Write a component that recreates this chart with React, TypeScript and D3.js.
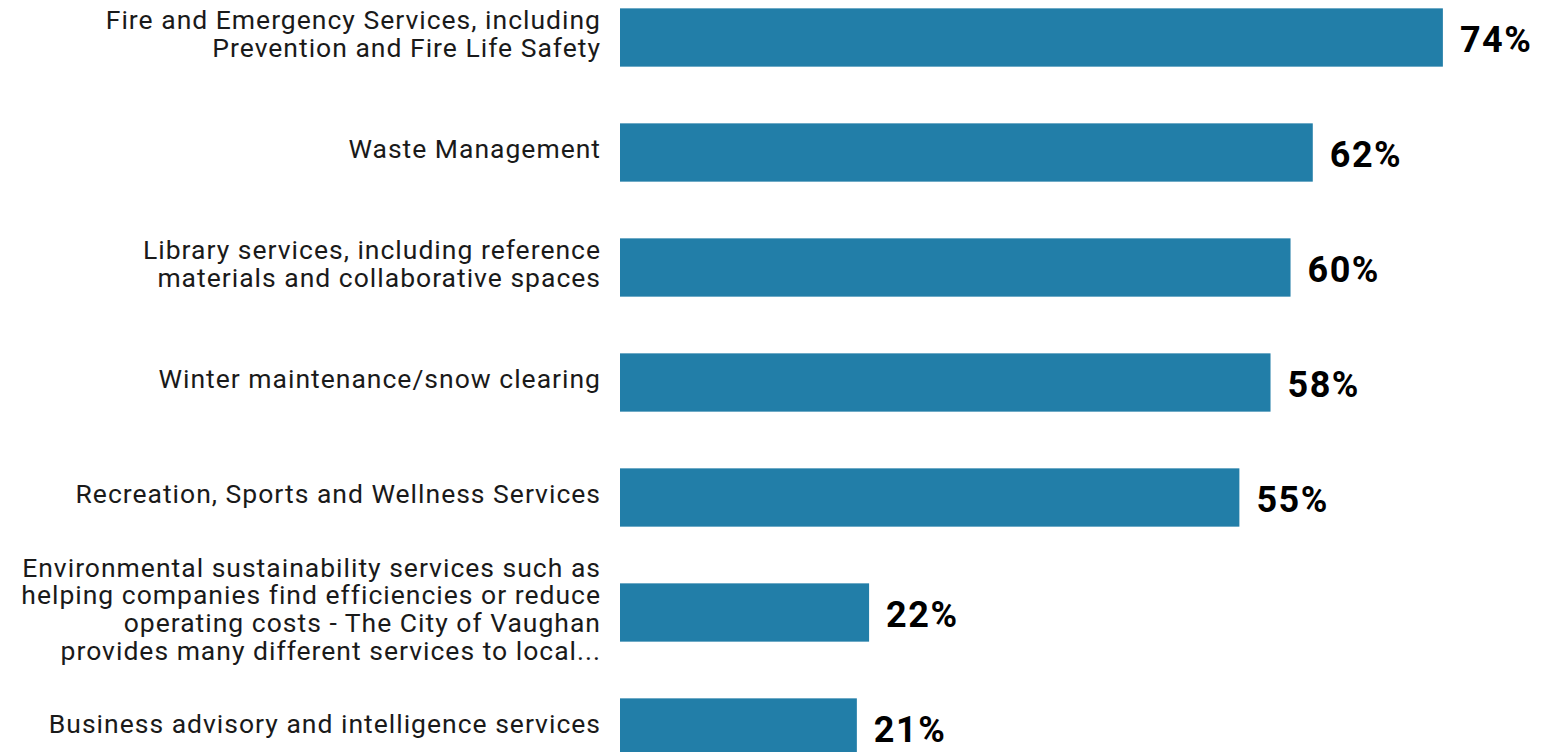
import React from "react";
import * as d3 from "d3";

// survey services, top to bottom
const categories = [
  "Fire and Emergency Services, including Prevention and Fire Life Safety",
  "Waste Management",
  "Library services, including reference materials and collaborative spaces",
  "Winter maintenance/snow clearing",
  "Recreation, Sports and Wellness Services",
  "Environmental sustainability services such as helping companies find efficiencies or reduce operating costs - The City of Vaughan provides many different services to local...",
  "Business advisory and intelligence services",
];

// how the labels wrap in the original
const labelLines = [
  ["Fire and Emergency Services, including", "Prevention and Fire Life Safety"],
  ["Waste Management"],
  ["Library services, including reference", "materials and collaborative spaces"],
  ["Winter maintenance/snow clearing"],
  ["Recreation, Sports and Wellness Services"],
  [
    "Environmental sustainability services such as",
    "helping companies find efficiencies or reduce",
    "operating costs - The City of Vaughan",
    "provides many different services to local...",
  ],
  ["Business advisory and intelligence services"],
];

const values = [74.0, 62.3, 60.3, 58.5, 55.7, 22.4, 21.3];
const valueLabels = ["74%", "62%", "60%", "58%", "55%", "22%", "21%"];

const W = 1549;
const H = 752;
const barLeft = 620;
const labelRight = 601;
const lineH = 27.7;

export default function App() {
  const x = d3.scaleLinear().domain([0, 100]).range([0, 1112]);
  const y = d3
    .scaleBand<string>()
    .domain(categories)
    .range([-20, -20 + 115 * categories.length])
    .paddingInner(0.493)
    .paddingOuter(0.2465);

  return (
    <svg
      width={W}
      height={H}
      style={{ position: "absolute", left: 0, top: 0, background: "#fff" }}
    >
      {categories.map((c, i) => {
        const top = y(c) as number;
        const mid = top + y.bandwidth() / 2;
        const lines = labelLines[i];
        return (
          <g key={c}>
            <rect
              x={barLeft}
              y={top}
              width={x(values[i])}
              height={y.bandwidth()}
              fill="#227ea8"
            />
            <text
              textAnchor="end"
              fontFamily="Roboto, sans-serif"
              fontSize={26.5}
              letterSpacing={1}
              fill="#1a1a1a"
            >
              {lines.map((l, j) => (
                <tspan
                  key={j}
                  x={labelRight}
                  y={mid + 5.7 + (j - (lines.length - 1) / 2) * lineH}
                >
                  {l}
                </tspan>
              ))}
            </text>
            <text
              x={barLeft + x(values[i]) + 17}
              y={mid + 14.8}
              fontFamily="Roboto, sans-serif"
              fontWeight="bold"
              fontSize={36}
              letterSpacing={1.5}
              fill="#000"
            >
              {valueLabels[i]}
            </text>
          </g>
        );
      })}
    </svg>
  );
}
